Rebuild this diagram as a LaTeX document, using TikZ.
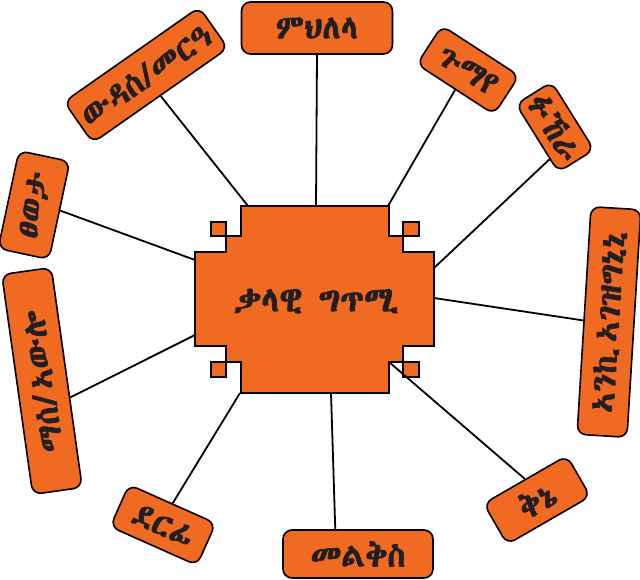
\documentclass[tikz,border=0pt]{standalone}
\usepackage{fontspec}
\usetikzlibrary{calc}
\IfFontExistsTF{Abyssinica SIL}{\newfontfamily\ethfont[FakeBold=2]{Abyssinica SIL}}{%
 \IfFontExistsTF{Noto Sans Ethiopic}{\newfontfamily\ethfont[FakeBold=2]{Noto Sans Ethiopic}}{%
  \IfFontExistsTF{FreeSerif}{\newfontfamily\ethfont[FakeBold=2]{FreeSerif}}{%
   \newfontfamily\ethfont{DejaVu Sans}}}}
\definecolor{orng}{RGB}{241,106,34}
\definecolor{ink}{RGB}{35,31,32}
\begin{document}
\begin{tikzpicture}[x=1pt,y=-1pt,
  lbl/.style={draw=black, line width=1.6pt, fill=orng, rounded corners=9pt,
    inner sep=0pt, text=ink, font=\ethfont\bfseries\fontsize{33}{38}\selectfont},
  link/.style={draw=black, line width=1.8pt},
  core/.style={draw=black, line width=1.9pt, fill=orng}]
\useasboundingbox (0,0) rectangle (640,580);
% central shape
\path[core] (241,206) -- (389,206) -- (389,236) -- (403,236) -- (403,252) -- (434,252)
  -- (434,346) -- (403,346) -- (403,362) -- (389,362) -- (389,393) -- (241,393)
  -- (241,362) -- (226,362) -- (226,346) -- (195,346) -- (195,252) -- (226,252)
  -- (226,236) -- (241,236) -- cycle;
\path[core] (211,222) rectangle (226,236);
\path[core] (403,222) rectangle (419,236);
\path[core] (211,362) rectangle (226,377);
\path[core] (403,362) rectangle (419,377);
\node[text=ink, font=\ethfont\bfseries\fontsize{35}{40}\selectfont] (ctr) at (316,301) {ቃላዊ ግጥሚ};
% connector start points on the central shape
\coordinate (c1) at (316,206);
\coordinate (c2) at (248,206);
\coordinate (c3) at (388,206);
\coordinate (c4) at (434,268);
\coordinate (c5) at (434,298);
\coordinate (c6) at (195,260);
\coordinate (c7) at (195,335);
\coordinate (c8) at (240,393);
\coordinate (c9) at (331,393);
\coordinate (c10) at (389,362);
% labels
\node[lbl, minimum width=151pt, minimum height=52pt] (mh) at (317,28) {ምህለላ};
\node[lbl, minimum width=165pt, minimum height=50pt, rotate=35] (wd) at (146,75) {ውዳሰ/መርዓ};
\node[lbl, minimum width=92pt, minimum height=46pt, rotate=-33] (gm) at (468,70) {ጉማየ};
\node[lbl, minimum width=80pt, minimum height=42pt, rotate=-58] (fk) at (555,127) {ፉኸራ};
\node[lbl, minimum width=228pt, minimum height=50pt, rotate=86.5] (an) at (609,322) {ኣንኪ\hspace{6pt}ኣገዝግኒኒ};
\node[lbl, minimum width=100pt, minimum height=52pt, rotate=78] (tw) at (34,205) {ፀወታ};
\node[lbl, minimum width=222pt, minimum height=50pt, rotate=98] (ms) at (42,381) {ማሰ/\hspace{4pt}ኣውሎ};
\node[lbl, minimum width=95pt, minimum height=46pt, rotate=-24] (df) at (163,525) {ደርፊ};
\node[lbl, minimum width=150pt, minimum height=48pt] (ml) at (358,554) {መልቅስ};
\node[lbl, minimum width=96pt, minimum height=47pt, rotate=30] (qn) at (537,500) {ቅኔ};
% connectors
\draw[link] (c1) -- (mh.south);
\draw[link] (c2) -- (wd.south);
\draw[link] (c3) -- (gm.south);
\draw[link] (c4) -- ($(fk.south)!0.6!(fk.south east)$);
\draw[link] (c5) -- (an.north);
\draw[link] (c6) -- (tw.south);
\draw[link] (c7) -- ($(ms.south)!0.18!(ms.south west)$);
\draw[link] (c8) -- (df.north);
\draw[link] (c9) -- ($(ml.north)!0.3!(ml.north west)$);
\draw[link] (c10) -- (qn.north);
\end{tikzpicture}
\end{document}
